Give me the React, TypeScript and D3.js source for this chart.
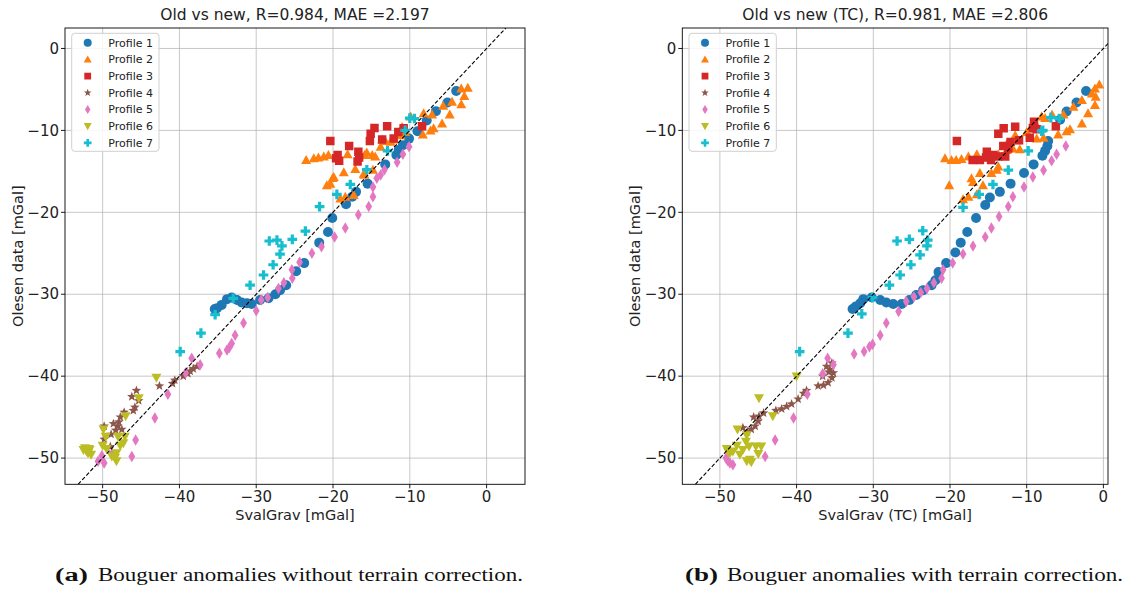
import React from "react";
import * as d3 from "d3";

type Pt = [number, number];

const profileNames = ["Profile 1", "Profile 2", "Profile 3", "Profile 4", "Profile 5", "Profile 6", "Profile 7"];
const profileColors = ["#1f77b4", "#ff7f0e", "#d62728", "#8c564b", "#e377c2", "#bcbd22", "#17becf"];
const profileMarkers = ["circle", "triangle", "square", "star", "diamond", "triangleDown", "plus"];

const xTicks = [-50, -40, -30, -20, -10, 0];
const yTicks = [0, -10, -20, -30, -40, -50];

// (a) without terrain correction: [SvalGrav, Olesen]
const old1: Pt[] = [[-3.96,-5.2],[-5.1,-6.6],[-6.6,-7.65],[-7.8,-8.8],[-9.0,-10.1],[-10.1,-11.0],[-10.9,-11.8],[-11.45,-12.4],[-11.75,-13.0],[-13.2,-14.15],[-15.5,-16.5],[-17.0,-17.5],[-17.5,-18.1],[-18.3,-19.0],[-20.1,-20.7],[-20.65,-22.4],[-21.8,-23.7],[-23.75,-26.2],[-24.8,-27.2],[-26.1,-28.9],[-26.9,-29.5],[-27.5,-30.0],[-28.4,-30.5],[-29.5,-30.7],[-30.6,-31.2],[-31.2,-31.1],[-31.9,-31.0],[-32.5,-30.7],[-33.2,-30.4],[-33.8,-30.6],[-34.5,-31.3],[-35.1,-31.7],[-35.4,-31.8]];
const old2: Pt[] = [[-2.45,-4.8],[-3.3,-4.9],[-2.9,-5.8],[-3.3,-6.8],[-4.5,-6.5],[-5.65,-7.0],[-4.8,-8.05],[-5.8,-9.15],[-7.1,-8.05],[-8.2,-7.9],[-6.9,-9.75],[-7.3,-10.0],[-8.3,-10.5],[-9.9,-8.3],[-11.0,-9.6],[-10.6,-10.2],[-11.2,-10.6],[-12.1,-11.1],[-12.5,-11.4],[-13.2,-11.3],[-13.8,-12.0],[-13.6,-11.1],[-14.9,-13.0],[-15.9,-13.0],[-18.1,-12.9],[-20.6,-13.0],[-21.2,-13.2],[-21.9,-13.3],[-22.5,-13.4],[-23.5,-13.6],[-14.8,-14.8],[-15.9,-15.4],[-17.1,-14.7],[-18.6,-15.1],[-20.05,-15.8],[-20.35,-16.5],[-20.8,-16.7],[-19.9,-15.7],[-19.05,-18.3],[-18.4,-18.1],[-17.3,-17.9],[-16.0,-15.3],[-14.5,-13.2],[-15.6,-12.7]];
const old3: Pt[] = [[-20.35,-11.3],[-19.4,-13.0],[-19.2,-13.7],[-19.6,-13.4],[-17.9,-11.9],[-16.7,-12.6],[-16.6,-13.3],[-16.8,-13.8],[-15.1,-10.4],[-14.6,-9.7],[-15.2,-11.3],[-13.6,-11.1],[-12.95,-9.5],[-12.1,-11.0],[-10.8,-9.75],[-8.4,-9.5],[-11.5,-10.2]];
const old4: Pt[] = [[-37.7,-38.8],[-38.2,-39.1],[-38.6,-39.4],[-38.9,-39.7],[-39.5,-40.0],[-40.6,-40.5],[-40.9,-40.9],[-42.6,-41.2],[-45.6,-41.75],[-46.2,-42.5],[-45.3,-43.0],[-45.8,-43.8],[-46.0,-44.2],[-47.2,-44.4],[-47.7,-45.0],[-48.6,-45.8],[-48.0,-46.1],[-47.5,-46.5],[-48.3,-46.6],[-49.8,-46.1],[-49.8,-47.7],[-48.9,-47.1],[-47.9,-45.6],[-49.0,-48.6]];
const old5: Pt[] = [[-10.1,-12.0],[-10.9,-12.9],[-11.65,-13.9],[-13.3,-14.8],[-13.8,-15.45],[-14.3,-15.85],[-14.8,-16.9],[-14.8,-18.1],[-15.35,-19.3],[-16.7,-20.3],[-18.4,-21.9],[-19.8,-23.0],[-21.5,-24.2],[-22.75,-25.0],[-24.35,-26.1],[-25.35,-27.0],[-25.3,-28.05],[-26.4,-28.6],[-27.1,-29.3],[-28.5,-30.4],[-29.35,-30.7],[-30.0,-32.0],[-31.65,-33.5],[-32.75,-35.0],[-33.2,-36.0],[-33.5,-36.5],[-33.8,-36.8],[-34.8,-37.2],[-38.4,-37.8],[-37.3,-38.6],[-39.2,-39.6],[-41.5,-42.2],[-43.2,-45.1],[-45.7,-47.8],[-46.2,-49.8],[-48.8,-49.5],[-50.1,-49.7],[-49.8,-50.6],[-50.6,-50.4]];
const old6: Pt[] = [[-43.0,-40.2],[-45.3,-42.7],[-47.0,-44.9],[-49.9,-46.5],[-48.0,-47.4],[-47.1,-47.4],[-47.3,-48.2],[-47.7,-48.5],[-49.5,-48.9],[-48.2,-49.4],[-48.8,-49.8],[-48.2,-50.4],[-48.4,-50.0],[-52.3,-48.8],[-52.1,-49.2],[-51.7,-49.0],[-51.9,-49.4],[-51.5,-49.6],[-52.5,-49.0],[-51.8,-48.9],[-49.6,-47.4],[-50.0,-48.5]];
const old7: Pt[] = [[-9.4,-8.55],[-10.0,-8.5],[-10.6,-10.0],[-12.9,-12.5],[-15.6,-14.8],[-17.75,-16.6],[-19.5,-17.8],[-21.75,-19.3],[-23.6,-22.3],[-25.3,-23.3],[-27.3,-23.4],[-28.3,-23.5],[-26.65,-24.1],[-26.9,-25.1],[-27.8,-26.4],[-29.05,-27.65],[-30.8,-28.9],[-33.0,-30.5],[-35.35,-32.5],[-37.2,-34.75],[-39.9,-37.0]];

// (b) with terrain correction
const tc1: Pt[] = [[-2.26,-5.2],[-3.5,-6.6],[-4.8,-7.7],[-5.65,-8.7],[-7.2,-11.3],[-7.3,-11.9],[-7.6,-12.5],[-7.95,-13.1],[-9.1,-14.15],[-10.35,-15.2],[-12.1,-16.5],[-13.5,-17.5],[-14.8,-18.2],[-15.4,-19.1],[-16.6,-20.7],[-17.75,-22.4],[-18.6,-23.7],[-19.3,-24.9],[-20.5,-26.2],[-21.5,-27.3],[-21.9,-28.3],[-22.4,-28.9],[-23.5,-29.5],[-24.4,-30.1],[-25.3,-30.7],[-26.3,-31.2],[-27.4,-31.2],[-28.3,-31.0],[-29.1,-30.7],[-30.2,-30.4],[-31.3,-30.6],[-31.7,-31.1],[-32.3,-31.5],[-32.7,-31.8]];
const tc2: Pt[] = [[-0.53,-4.4],[-1.1,-4.9],[-1.5,-5.5],[-1.0,-5.9],[-1.1,-6.9],[-2.8,-6.3],[-3.9,-7.1],[-5.2,-8.05],[-2.0,-7.9],[-2.8,-9.15],[-4.35,-9.85],[-4.8,-10.1],[-5.9,-10.5],[-6.7,-8.05],[-7.6,-8.5],[-8.05,-8.3],[-8.7,-9.4],[-8.7,-11.0],[-7.8,-10.9],[-10.0,-10.2],[-11.5,-10.6],[-11.2,-11.2],[-11.8,-12.2],[-10.9,-12.3],[-12.6,-12.4],[-13.7,-12.9],[-14.8,-13.0],[-16.5,-12.9],[-17.6,-13.2],[-18.5,-13.5],[-19.2,-13.6],[-19.8,-13.6],[-20.65,-13.4],[-13.7,-14.4],[-13.9,-14.8],[-14.6,-15.2],[-16.1,-15.2],[-17.2,-15.85],[-17.0,-16.3],[-15.7,-16.7],[-20.1,-16.7],[-17.6,-18.1],[-18.3,-18.4],[-16.5,-17.8],[-9.5,-9.8],[-12.5,-11.5]];
const tc3: Pt[] = [[-19.1,-11.3],[-13.7,-10.4],[-13.0,-9.75],[-11.5,-9.55],[-9.05,-8.95],[-9.2,-9.7],[-8.7,-9.85],[-6.2,-9.5],[-9.6,-10.9],[-11.0,-11.2],[-12.1,-11.4],[-13.05,-11.9],[-12.8,-13.2],[-13.7,-13.2],[-14.35,-13.0],[-15.2,-12.6],[-15.3,-13.3],[-16.1,-13.6],[-17.05,-13.6],[-14.65,-13.6],[-12.4,-12.2]];
const tc4: Pt[] = [[-35.4,-38.4],[-36.1,-38.8],[-35.65,-39.2],[-35.2,-39.6],[-35.4,-40.2],[-35.9,-40.8],[-36.5,-41.1],[-37.2,-41.2],[-38.7,-41.75],[-39.1,-42.1],[-39.8,-42.8],[-40.65,-43.4],[-41.3,-43.7],[-41.95,-44.0],[-42.7,-44.2],[-44.3,-44.5],[-44.9,-44.9],[-45.0,-45.5],[-45.4,-46.1],[-45.9,-46.5],[-47.0,-46.3],[-36.6,-40.0],[-35.8,-39.5],[-46.4,-46.8],[-45.6,-45.0]];
const tc5: Pt[] = [[-4.9,-11.9],[-6.1,-12.9],[-6.75,-13.7],[-7.8,-14.85],[-9.2,-15.7],[-10.35,-16.9],[-11.8,-18.1],[-12.4,-19.3],[-13.6,-20.5],[-14.6,-21.9],[-15.4,-23.0],[-17.0,-24.1],[-18.3,-25.1],[-19.65,-26.2],[-20.9,-27.0],[-21.1,-28.05],[-22.1,-28.6],[-23.0,-29.3],[-23.8,-29.8],[-24.7,-30.3],[-25.7,-30.9],[-26.7,-32.1],[-28.3,-33.5],[-29.1,-35.0],[-30.1,-36.1],[-30.5,-36.4],[-31.2,-37.0],[-32.5,-37.3],[-35.95,-37.8],[-35.2,-38.6],[-36.6,-39.7],[-38.6,-42.2],[-40.4,-45.1],[-42.8,-47.8],[-44.1,-49.8],[-48.7,-50.6],[-49.2,-50.0],[-48.3,-50.8],[-49.0,-50.3]];
const tc6: Pt[] = [[-40.0,-40.05],[-44.9,-42.7],[-43.1,-44.9],[-47.7,-46.5],[-46.5,-47.2],[-46.6,-48.0],[-47.8,-48.5],[-49.1,-48.9],[-48.7,-49.4],[-47.4,-49.6],[-46.1,-50.2],[-45.9,-50.5],[-45.3,-48.6],[-44.6,-48.6],[-45.0,-49.5],[-46.5,-50.4],[-48.3,-49.2],[-47.0,-49.0],[-46.2,-48.6],[-48.9,-49.3]];
const tc7: Pt[] = [[-5.75,-8.55],[-6.85,-8.45],[-7.9,-10.0],[-8.05,-10.1],[-9.8,-12.5],[-12.4,-14.85],[-14.4,-16.6],[-16.2,-17.8],[-18.3,-19.4],[-23.55,-22.25],[-22.9,-23.4],[-23.0,-24.1],[-25.3,-23.3],[-26.9,-23.5],[-23.9,-25.2],[-25.1,-26.4],[-26.5,-27.65],[-27.9,-28.9],[-30.1,-30.4],[-31.5,-32.4],[-33.3,-34.75],[-39.6,-37.0]];

const fmt = (v: number) => (v < 0 ? "\u2212" + Math.abs(v) : String(v));

const markerPath = (kind: string, s = 1) => {
  const r = 5 * s;
  if (kind === "circle") return d3.symbol(d3.symbolCircle, Math.PI * r * r)()!;
  if (kind === "triangle") return `M0,${-r}L${r},${r * 0.8}L${-r},${r * 0.8}Z`;
  if (kind === "triangleDown") return `M0,${r}L${r},${-r * 0.8}L${-r},${-r * 0.8}Z`;
  if (kind === "square") return d3.symbol(d3.symbolSquare, 72 * s * s)()!;
  if (kind === "diamond") return `M0,${-r * 1.15}L${r * 0.68},0L0,${r * 1.15}L${-r * 0.68},0Z`;
  if (kind === "plus") return d3.symbol(d3.symbolCross, 52 * s * s)()!;
  // star
  const pts = d3.range(10).map((i) => {
    const a = (i * Math.PI) / 5 - Math.PI / 2;
    const rr = i % 2 === 0 ? r * 1.0 : r * 0.42;
    return [rr * Math.cos(a), rr * Math.sin(a)];
  });
  return "M" + pts.map((p) => p.join(",")).join("L") + "Z";
};

const Panel = ({ id, left, width, xMax, title, xLabel, series }: any) => {
  const top = 28;
  const bottom = 484.3;
  const x = d3.scaleLinear().domain([-54.9, xMax]).range([left, left + width]);
  const y = d3.scaleLinear().domain([-53.2, 2.5]).range([bottom, top]);
  const lo = Math.max(x.domain()[0], y.domain()[0]);
  const hi = Math.min(x.domain()[1], y.domain()[1]);
  const lx = left + 6.7;
  const ly = 33.3;

  return (
    <g fontFamily="DejaVu Sans, sans-serif" fill="#000">
      <defs>
        <clipPath id={id}>
          <rect x={left} y={top} width={width} height={bottom - top} />
        </clipPath>
      </defs>
      {/* grid */}
      {xTicks.map((t) => (
        <line key={"gx" + t} x1={x(t)} x2={x(t)} y1={top} y2={bottom} stroke="#b0b0b0" strokeOpacity={0.7} strokeWidth={1} />
      ))}
      {yTicks.map((t) => (
        <line key={"gy" + t} x1={left} x2={left + width} y1={y(t)} y2={y(t)} stroke="#b0b0b0" strokeOpacity={0.7} strokeWidth={1} />
      ))}
      <g clipPath={`url(#${id})`}>
        {series.map((pts: Pt[], i: number) => (
          <g key={i} fill={profileColors[i]}>
            {pts.map((p, j) => (
              <path key={j} d={markerPath(profileMarkers[i])} transform={`translate(${x(p[0])},${y(p[1])})`} />
            ))}
          </g>
        ))}
        <line x1={x(lo)} y1={y(lo)} x2={x(hi)} y2={y(hi)} stroke="#000" strokeWidth={1.1} strokeDasharray="4,2" />
      </g>
      {/* frame */}
      <rect x={left} y={top} width={width} height={bottom - top} fill="none" stroke="#000" strokeWidth={0.9} />
      {/* ticks */}
      {xTicks.map((t) => (
        <g key={"tx" + t}>
          <line x1={x(t)} x2={x(t)} y1={bottom} y2={bottom + 4} stroke="#000" strokeWidth={0.9} />
          <text x={x(t)} y={bottom + 18} textAnchor="middle" fontSize={15} fill="#222">{fmt(t)}</text>
        </g>
      ))}
      {yTicks.map((t) => (
        <g key={"ty" + t}>
          <line x1={left - 4} x2={left} y1={y(t)} y2={y(t)} stroke="#000" strokeWidth={0.9} />
          <text x={left - 6} y={y(t)} dy="0.35em" textAnchor="end" fontSize={15} fill="#222">{fmt(t)}</text>
        </g>
      ))}
      <text x={left + width / 2} y={20} textAnchor="middle" fontSize={15.5} fill="#222">{title}</text>
      <text x={left + width / 2} y={520} textAnchor="middle" fontSize={14.5} fill="#222">{xLabel}</text>
      <text transform={`translate(${left - 42},${(top + bottom) / 2}) rotate(-90)`} textAnchor="middle" fontSize={14.5} fill="#222">Olesen data [mGal]</text>
      {/* legend */}
      <rect x={lx} y={ly} width={87.3} height={118} rx={3} fill="#fff" fillOpacity={0.85} stroke="#d0d0d0" strokeWidth={1} />
      {profileNames.map((n, i) => (
        <g key={n} transform={`translate(${lx},${ly + 9.4 + i * 16.7})`}>
          <path d={markerPath(profileMarkers[i], 0.8)} transform="translate(16,0)" fill={profileColors[i]} />
          <text x={36.6} dy="0.35em" fontSize={11} fill="#222">{n}</text>
        </g>
      ))}
    </g>
  );
};

export default function App() {
  return (
    <svg width={1136} height={590} style={{ position: "absolute", left: 0, top: 0, background: "#fff" }}>
      <rect width={1136} height={590} fill="#fff" />
      <Panel id="clipA" left={65} width={460} xMax={5} title="Old vs new, R=0.984, MAE =2.197" xLabel="SvalGrav [mGal]" series={[old1, old2, old3, old4, old5, old6, old7]} />
      <Panel id="clipB" left={682.3} width={425.7} xMax={0.6} title="Old vs new (TC), R=0.981, MAE =2.806" xLabel="SvalGrav (TC) [mGal]" series={[tc1, tc2, tc3, tc4, tc5, tc6, tc7]} />
      <g fontFamily="Liberation Serif, serif" fontSize={18} fill="#111">
        <text x={55} y={581} fontWeight="bold" textLength={33} lengthAdjust="spacingAndGlyphs">(a)</text>
        <text x={98} y={581} textLength={425} lengthAdjust="spacingAndGlyphs">Bouguer anomalies without terrain correction.</text>
        <text x={685} y={581} fontWeight="bold" textLength={33} lengthAdjust="spacingAndGlyphs">(b)</text>
        <text x={727} y={581} textLength={396} lengthAdjust="spacingAndGlyphs">Bouguer anomalies with terrain correction.</text>
      </g>
    </svg>
  );
}
